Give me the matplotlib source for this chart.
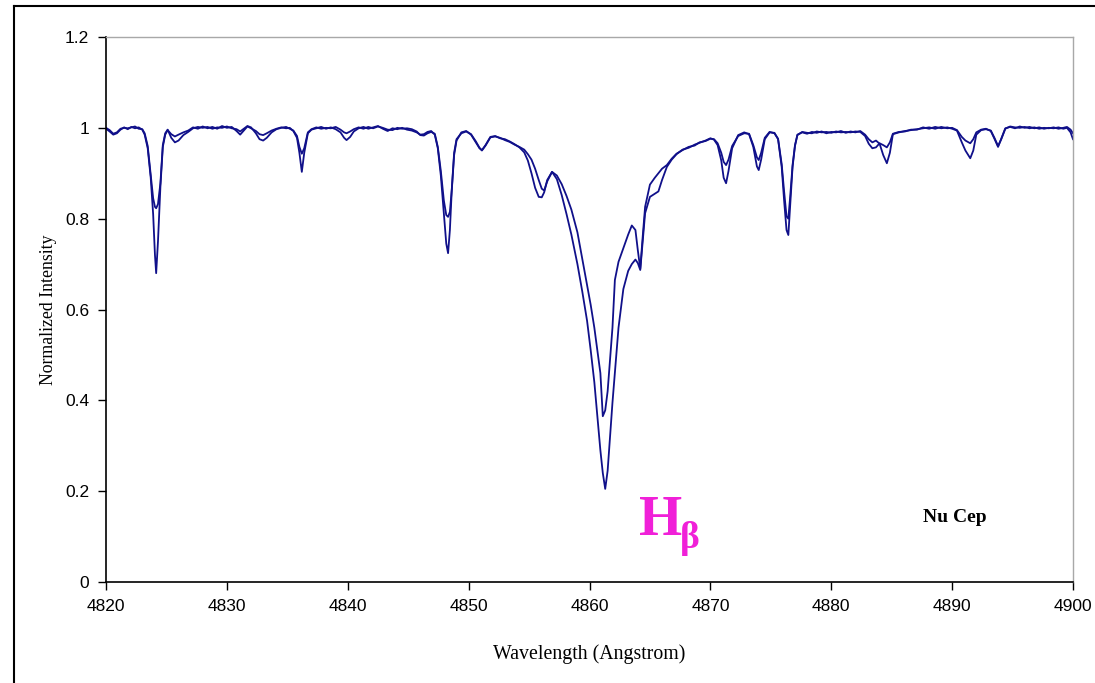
import numpy as np
import matplotlib.pyplot as plt
from matplotlib.lines import Line2D

# wavelength grid (Angstrom) shared by both spectra
wave = [
    4820.0, 4820.3, 4820.6, 4820.9, 4821.2, 4821.5, 4821.8, 4822.1, 4822.4, 4822.7,
    4823.0, 4823.2, 4823.45, 4823.7, 4823.9, 4824.05, 4824.15, 4824.3, 4824.5, 4824.7,
    4824.9, 4825.1, 4825.4, 4825.7, 4826.0, 4826.4, 4826.8, 4827.2, 4827.6, 4828.0,
    4828.4, 4828.8, 4829.2, 4829.6, 4830.0, 4830.4, 4830.8, 4831.1, 4831.4, 4831.7,
    4832.0, 4832.4, 4832.7, 4833.0, 4833.3, 4833.7, 4834.1, 4834.5, 4834.9, 4835.2,
    4835.5, 4835.8, 4836.0, 4836.2, 4836.4, 4836.7, 4837.0, 4837.4, 4837.8, 4838.2,
    4838.6, 4839.0, 4839.4, 4839.7, 4839.9, 4840.2, 4840.5, 4840.9, 4841.3, 4841.7,
    4842.1, 4842.5, 4842.9, 4843.3, 4843.7, 4844.1, 4844.5, 4844.9, 4845.3, 4845.7,
    4846.0, 4846.3, 4846.6, 4846.9, 4847.2, 4847.45, 4847.7, 4847.95, 4848.15, 4848.3,
    4848.45, 4848.6, 4848.8, 4849.0, 4849.4, 4849.8, 4850.2, 4850.6, 4850.9, 4851.1,
    4851.4, 4851.8, 4852.2, 4852.6, 4853.0, 4853.4, 4853.8, 4854.2, 4854.6, 4854.9,
    4855.2, 4855.5, 4855.8, 4856.05, 4856.25, 4856.5, 4856.9, 4857.3, 4857.7, 4858.1,
    4858.5, 4859.0, 4859.4, 4859.8, 4860.1, 4860.4, 4860.7, 4860.9, 4861.1, 4861.3,
    4861.5, 4861.7, 4861.9, 4862.1, 4862.4, 4862.8, 4863.2, 4863.5, 4863.8, 4864.0,
    4864.2, 4864.4, 4864.6, 4865.0, 4865.4, 4865.7, 4866.0, 4866.4, 4866.8, 4867.2,
    4867.7, 4868.2, 4868.7, 4869.1, 4869.6, 4870.0, 4870.3, 4870.6, 4870.9, 4871.1,
    4871.3, 4871.5, 4871.8, 4872.3, 4872.8, 4873.2, 4873.55, 4873.85, 4874.0, 4874.2,
    4874.5, 4874.9, 4875.3, 4875.6, 4875.9, 4876.1, 4876.3, 4876.45, 4876.6, 4876.8,
    4877.0, 4877.2, 4877.6, 4878.0, 4878.4, 4878.8, 4879.2, 4879.6, 4880.0, 4880.4,
    4880.8, 4881.2, 4881.6, 4882.0, 4882.4, 4882.8, 4883.1, 4883.4, 4883.7, 4884.0,
    4884.3, 4884.6, 4884.85, 4885.1, 4885.6, 4886.1, 4886.6, 4887.1, 4887.6, 4888.1,
    4888.6, 4889.1, 4889.6, 4890.0, 4890.4, 4890.8, 4891.1, 4891.5, 4891.75, 4892.0,
    4892.4, 4892.8, 4893.2, 4893.5, 4893.8, 4894.05, 4894.4, 4894.8, 4895.2, 4895.6,
    4896.0, 4896.4, 4896.8, 4897.2, 4897.6, 4898.0, 4898.4, 4898.8, 4899.2, 4899.5,
    4899.8, 4900.0,
]

# spectrum with the deeper lines
flux_a = [
    0.998, 0.992, 0.985, 0.988, 0.996, 1.001, 0.997, 1.002, 0.999, 1.001,
    0.996, 0.985, 0.955, 0.890, 0.810, 0.720, 0.680, 0.750, 0.870, 0.958,
    0.985, 0.995, 0.986, 0.981, 0.985, 0.990, 0.994, 1.001, 0.998, 1.003,
    0.999, 1.002, 0.998, 1.004, 1.000, 1.002, 0.993, 0.985, 0.994, 1.003,
    0.999, 0.993, 0.986, 0.984, 0.988, 0.994, 0.998, 1.001, 0.999, 1.000,
    0.993, 0.978, 0.945, 0.903, 0.945, 0.988, 0.996, 0.999, 1.002, 0.998,
    1.001, 0.997, 0.990, 0.978, 0.973, 0.980, 0.992, 0.999, 1.002, 0.998,
    1.001, 1.004, 0.998, 0.993, 0.999, 0.997, 1.000, 0.996, 0.994, 0.990,
    0.985, 0.986, 0.991, 0.993, 0.985, 0.955, 0.895, 0.810, 0.745, 0.724,
    0.775, 0.860, 0.940, 0.972, 0.990, 0.993, 0.985, 0.968, 0.955, 0.951,
    0.962, 0.980, 0.982, 0.977, 0.975, 0.970, 0.964, 0.957, 0.946, 0.928,
    0.900, 0.868, 0.848, 0.847, 0.858, 0.885, 0.903, 0.887, 0.852, 0.810,
    0.765, 0.700, 0.640, 0.575, 0.510, 0.440, 0.350, 0.290, 0.240, 0.205,
    0.245, 0.320, 0.395, 0.460, 0.560, 0.645, 0.685, 0.700, 0.710, 0.702,
    0.687, 0.750, 0.812, 0.848, 0.855, 0.860, 0.885, 0.914, 0.930, 0.942,
    0.952, 0.956, 0.963, 0.967, 0.972, 0.977, 0.974, 0.962, 0.928, 0.890,
    0.878, 0.905, 0.955, 0.984, 0.990, 0.986, 0.958, 0.915, 0.907, 0.930,
    0.975, 0.990, 0.989, 0.975, 0.914, 0.840, 0.775, 0.764, 0.830, 0.914,
    0.960, 0.985, 0.990, 0.987, 0.991, 0.989, 0.992, 0.988, 0.991, 0.990,
    0.993, 0.989, 0.992, 0.990, 0.993, 0.985, 0.975, 0.968, 0.972, 0.965,
    0.940, 0.922, 0.945, 0.986, 0.990, 0.993, 0.995, 0.997, 0.999, 1.001,
    0.998, 1.002, 0.999, 1.000, 0.995, 0.980, 0.972, 0.966, 0.975, 0.990,
    0.996, 0.998, 0.993, 0.976, 0.958, 0.975, 0.999, 1.002, 0.999, 1.003,
    1.000, 1.002, 0.999, 1.001, 0.998, 1.000, 0.999, 1.001, 0.998, 1.000,
    0.990, 0.975,
]

# spectrum with the shallower lines
flux_b = [
    1.000, 0.995, 0.987, 0.990, 0.998, 1.000, 0.999, 1.001, 1.003, 0.998,
    0.997, 0.988, 0.960, 0.895, 0.845, 0.826, 0.823, 0.832, 0.878, 0.962,
    0.988, 0.996, 0.978, 0.968, 0.972, 0.984, 0.991, 0.999, 1.002, 1.000,
    1.002, 0.998, 1.001, 1.000, 1.003, 0.999, 0.997, 0.992, 0.998, 1.004,
    1.001, 0.988, 0.975, 0.972, 0.978, 0.990, 0.997, 1.000, 1.002, 0.998,
    0.994, 0.982, 0.958, 0.943, 0.955, 0.990, 0.997, 1.001, 0.998, 1.000,
    0.999, 1.002, 0.996, 0.990, 0.988, 0.992, 0.997, 1.001, 0.998, 1.002,
    0.999, 1.003, 1.000, 0.996, 0.995, 1.000, 0.998, 0.999, 0.997, 0.992,
    0.984, 0.983, 0.988, 0.991, 0.987, 0.958, 0.905, 0.840, 0.808, 0.804,
    0.815, 0.862, 0.945, 0.975, 0.988, 0.992, 0.986, 0.970, 0.956, 0.950,
    0.961, 0.979, 0.981, 0.978, 0.973, 0.969, 0.963, 0.958, 0.952, 0.942,
    0.930, 0.910, 0.885, 0.866, 0.862, 0.882, 0.903, 0.895, 0.876, 0.850,
    0.820, 0.770, 0.712, 0.655, 0.610, 0.560, 0.500, 0.460, 0.365, 0.378,
    0.420, 0.490, 0.560, 0.665, 0.705, 0.735, 0.765, 0.785, 0.775, 0.730,
    0.690, 0.760, 0.826, 0.875, 0.890, 0.900, 0.910, 0.918, 0.932, 0.943,
    0.951, 0.958, 0.961, 0.968, 0.971, 0.976, 0.975, 0.966, 0.945, 0.925,
    0.918, 0.930, 0.960, 0.982, 0.988, 0.987, 0.962, 0.935, 0.929, 0.945,
    0.978, 0.991, 0.988, 0.976, 0.920, 0.860, 0.805, 0.800, 0.848, 0.918,
    0.962, 0.984, 0.991, 0.989, 0.988, 0.992, 0.990, 0.991, 0.989, 0.992,
    0.990, 0.991, 0.990, 0.992, 0.991, 0.982, 0.965, 0.955, 0.957, 0.966,
    0.962, 0.957, 0.968, 0.987, 0.991, 0.992, 0.996, 0.996, 1.001, 0.998,
    1.002, 0.999, 1.001, 0.998, 0.994, 0.968, 0.950, 0.933, 0.950, 0.985,
    0.995, 0.997, 0.994, 0.978, 0.960, 0.974, 0.998, 1.003, 1.001, 1.000,
    1.002, 0.999, 1.001, 0.998, 1.000, 0.999, 1.001, 0.998, 1.000, 1.002,
    0.996, 0.988,
]

x_ticks = [4820, 4830, 4840, 4850, 4860, 4870, 4880, 4890, 4900]
y_ticks = [0, 0.2, 0.4, 0.6, 0.8, 1.0, 1.2]
y_tick_labels = ['0', '0.2', '0.4', '0.6', '0.8', '1', '1.2']

SERIF = ['Liberation Serif', 'DejaVu Serif']
SANS = ['Liberation Sans', 'DejaVu Sans']
LINE_C = '#10108a'

fig = plt.figure(figsize=(10.95, 6.83), dpi=100)
ax = fig.add_axes([106 / 1095, 1 - 582 / 683, (1073 - 106) / 1095, (582 - 37) / 683])

ax.plot(wave, flux_a, color=LINE_C, lw=1.3)
ax.plot(wave, flux_b, color=LINE_C, lw=1.3)

ax.set_xlim(4820, 4900)
ax.set_ylim(0, 1.2)
ax.set_xticks(x_ticks)
ax.set_xticklabels([str(t) for t in x_ticks], family=SANS, fontsize=12.5)
ax.set_yticks(y_ticks)
ax.set_yticklabels(y_tick_labels, family=SANS, fontsize=12.5)
ax.tick_params(axis='both', direction='out', length=6, width=1, color='black', pad=6)

for side in ['left', 'bottom']:
    ax.spines[side].set_color('black')
    ax.spines[side].set_linewidth(1.2)
for side in ['top', 'right']:
    ax.spines[side].set_color('#a8a8a8')
    ax.spines[side].set_linewidth(1.0)

ax.set_xlabel('Wavelength (Angstrom)', family=SERIF, fontsize=14.3, labelpad=22)
ax.set_ylabel('Normalized Intensity', family=SERIF, fontsize=12.8, labelpad=6)

# H-beta label and star name
ax.text(4864.1, 0.103, 'H', color='#f020d8', family=SERIF, fontsize=40,
        fontweight='bold', ha='left', va='baseline')
ax.text(4867.5, 0.075, 'β', color='#f020d8', family=SERIF, fontsize=27,
        fontweight='bold', ha='left', va='baseline')
ax.text(4890.2, 0.143, 'Nu Cep', color='black', family=SERIF, fontsize=14,
        fontweight='bold', ha='center', va='center')

# outer frame (left and top edges visible)
fig.add_artist(Line2D([14 / 1095, 14 / 1095], [0, 1 - 6 / 683], transform=fig.transFigure,
                      color='black', lw=1.5))
fig.add_artist(Line2D([14 / 1095, 1], [1 - 6 / 683, 1 - 6 / 683], transform=fig.transFigure,
                      color='black', lw=1.5))

fig.savefig('out.png', dpi=100)
